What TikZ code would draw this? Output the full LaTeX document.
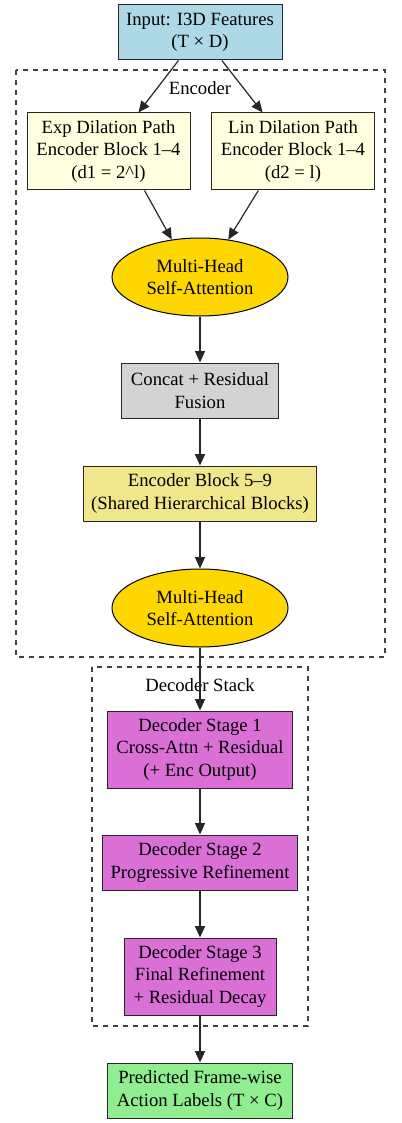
\documentclass[tikz,border=0pt]{standalone}
\usepackage{fontspec}
\setmainfont{Liberation Serif}
\usetikzlibrary{arrows.meta}
\usetikzlibrary{shapes.geometric}
\definecolor{inblue}{HTML}{ADD8E6}
\definecolor{pathyellow}{HTML}{FFFFE0}
\definecolor{attgold}{HTML}{FFD700}
\definecolor{fusegray}{HTML}{D3D3D3}
\definecolor{sharedkhaki}{HTML}{F0E68C}
\definecolor{decorchid}{HTML}{DA70D6}
\definecolor{outgreen}{HTML}{90EE90}
\tikzset{blk/.style={shape=rectangle, draw=black!85, line width=0.75pt,
    align=center, inner sep=0pt, font=\fontsize{14pt}{16.8pt}\selectfont}}
\tikzset{att/.style={shape=ellipse, draw=black, fill=attgold, line width=0.75pt,
    align=center, inner sep=0pt, minimum width=132pt, minimum height=58.5pt,
    font=\fontsize{14pt}{16.8pt}\selectfont}}
\tikzset{flow/.style={-{Triangle[length=8.5pt,width=7.5pt]}, line width=0.9pt, draw=black!85}}
\tikzset{grp/.style={draw=black!75, line width=0.9pt, dash pattern=on 4pt off 3.5pt}}
\tikzset{grplabel/.style={font=\fontsize{14pt}{16.8pt}\selectfont, inner sep=0pt}}

\begin{document}
\begin{tikzpicture}[x=0.75pt, y=-0.75pt]
    \useasboundingbox (0,0) rectangle (401,1123);

    % clusters
    \draw[grp] (16,70) rectangle (385,657);
    \draw[grp] (92,667) rectangle (308,1026);
    \node[grplabel] (encLbl) at (200,88) {Encoder};
    \node[grplabel] (decLbl) at (200,685) {Decoder Stack};

    \node[blk, fill=inblue, minimum width=123pt, minimum height=41.25pt] (In) at (200,32.5) {Input: I3D Features\\(T × D)};
    \node[blk, fill=pathyellow, minimum width=122.25pt, minimum height=57.75pt] (Exp) at (108.5,151.5) {Exp Dilation Path\\Encoder Block 1–4\\(d1 = 2\textasciicircum l)};
    \node[blk, fill=pathyellow, minimum width=122.25pt, minimum height=57.75pt] (Lin) at (293,151.5) {Lin Dilation Path\\Encoder Block 1–4\\(d2 = l)};
    \node[att] (Att1) at (200,277) {Multi-Head\\Self-Attention};
    \node[blk, fill=fusegray, minimum width=117.75pt, minimum height=41.25pt] (Fuse) at (200,390.5) {Concat + Residual\\Fusion};
    \node[blk, fill=sharedkhaki, minimum width=174.75pt, minimum height=41.25pt] (Shared) at (200,493.5) {Encoder Block 5–9\\(Shared Hierarchical Blocks)};
    \node[att] (Att2) at (200,608) {Multi-Head\\Self-Attention};
    \node[blk, fill=decorchid, minimum width=138.75pt, minimum height=57.75pt] (Dec1) at (200,749.5) {Decoder Stage 1\\Cross-Attn + Residual\\(+ Enc Output)};
    \node[blk, fill=decorchid, minimum width=146.25pt, minimum height=41.25pt] (Dec2) at (200,862.5) {Decoder Stage 2\\Progressive Refinement};
    \node[blk, fill=decorchid, minimum width=114pt, minimum height=57.75pt] (Dec3) at (200,976.5) {Decoder Stage 3\\Final Refinement\\+ Residual Decay};
    \node[blk, fill=outgreen, minimum width=138.75pt, minimum height=41.25pt] (Out) at (200,1090.5) {Predicted Frame-wise\\Action Labels (T × C)};

    \draw[flow] (In) -- (Exp);
    \draw[flow] (In) -- (Lin);
    \draw[flow] ([xshift=27pt]Exp.south) -- (Att1.127);
    \draw[flow] ([xshift=-26pt]Lin.south) -- (Att1.53);
    \draw[flow] (Att1) -- (Fuse);
    \draw[flow] (Fuse) -- (Shared);
    \draw[flow] (Shared) -- (Att2);
    \draw[flow] (Att2) -- (Dec1);
    \draw[flow] (Dec1) -- (Dec2);
    \draw[flow] (Dec2) -- (Dec3);
    \draw[flow] (Dec3) -- (Out);

\end{tikzpicture}
\end{document}
